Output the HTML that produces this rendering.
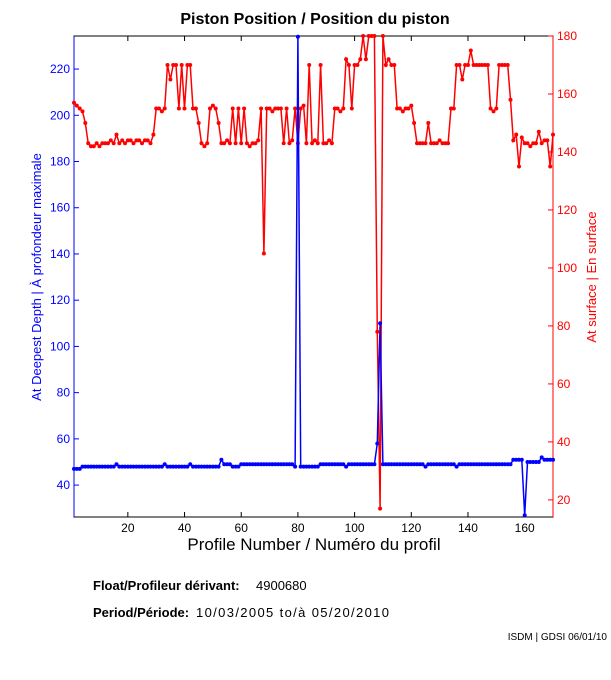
<!DOCTYPE html>
<html><head><meta charset="utf-8"><style>
body{margin:0;background:#fff;width:611px;height:675px;overflow:hidden;font-family:"Liberation Sans",sans-serif}
</style></head><body>
<svg id="s" width="611" height="675" xmlns="http://www.w3.org/2000/svg" font-family="Liberation Sans, sans-serif">
<rect width="611" height="675" fill="#fff"/>
<text x="315" y="24" font-size="16" font-weight="bold" text-anchor="middle">Piston Position / Position du piston</text>
<text x="314" y="550" font-size="17" text-anchor="middle">Profile Number / Numéro du profil</text>
<text transform="translate(41,277) rotate(-90)" font-size="13" fill="#0000ff" text-anchor="middle">At Deepest Depth | À profondeur maximale</text>
<text transform="translate(596,277) rotate(-90)" font-size="13" fill="#ff0000" text-anchor="middle">At surface | En surface</text>
<text x="93" y="590" font-size="13" font-weight="bold">Float/Profileur dérivant:</text>
<text x="256" y="590" font-size="13">4900680</text>
<text x="93" y="617" font-size="13" font-weight="bold">Period/Période:</text>
<text x="196" y="617" font-size="13" textLength="193" lengthAdjust="spacing">10/03/2005  to/à  05/20/2010</text>
<text x="607" y="640" font-size="10" text-anchor="end">ISDM | GDSI 06/01/10</text>
<g id="g"></g>
</svg>
<script>
const L=74,R=553,T=36,B=517;
const X=v=>L+(v-1)*(R-L)/169;
const YL=v=>T+(234.3-v)*(B-T)/(234.3-26.2);
const YR=v=>T+(180-v)*(B-T)/(180-14.1);
let h='';
h+=`<rect x="${L}" y="${T}" width="${R-L}" height="${B-T}" fill="none" stroke="#000"/>`;
h+=`<line x1="${L}" y1="${T}" x2="${L}" y2="${B}" stroke="#00f"/>`;
h+=`<line x1="${R}" y1="${T}" x2="${R}" y2="${B}" stroke="#f00"/>`;
for(let v=20;v<=160;v+=20){const x=X(v);h+=`<line x1="${x}" y1="${B}" x2="${x}" y2="${B-5}" stroke="#000"/><line x1="${x}" y1="${T}" x2="${x}" y2="${T+5}" stroke="#000"/><text x="${x}" y="${B+15}" font-size="12" text-anchor="middle">${v}</text>`;}
for(let v=40;v<=220;v+=20){const y=YL(v);h+=`<line x1="${L}" y1="${y}" x2="${L+5}" y2="${y}" stroke="#00f"/><text x="${L-4}" y="${y+4}" font-size="12" fill="#00f" text-anchor="end">${v}</text>`;}
for(let v=20;v<=180;v+=20){const y=YR(v);h+=`<line x1="${R}" y1="${y}" x2="${R-5}" y2="${y}" stroke="#f00"/><text x="${R+4}" y="${y+4}" font-size="12" fill="#f00">${v}</text>`;}
const red={1:157,2:156,3:155,4:154,5:150,6:143,7:142,8:142,9:143,10:142,11:143,12:143,13:143,14:144,15:143,16:146,17:143,18:144,19:143,20:144,21:144,22:143,23:144,24:144,25:143,26:144,27:144,28:143,29:146,30:155,31:155,32:154,33:155,34:170,35:165,36:170,37:170,38:155,39:170,40:155,41:170,42:170,43:155,44:155,45:150,46:143,47:142,48:143,49:155,50:156,51:155,52:150,53:143,54:143,55:144,56:143,57:155,58:143,59:155,60:143,61:155,62:143,63:142,64:143,65:143,66:144,67:155,68:105,69:155,70:155,71:154,72:155,73:155,74:155,75:143,76:155,77:143,78:144,79:155,80:143,81:155,82:156,83:143,84:170,85:143,86:144,87:143,88:170,89:143,90:143,91:144,92:143,93:155,94:155,95:154,96:155,97:172,98:170,99:155,100:170,101:170,102:172,103:180,104:172,105:180,106:180,107:180,108:78,109:17,110:180,111:170,112:172,113:170,114:170,115:155,116:155,117:154,118:155,119:155,120:156,121:150,122:143,123:143,124:143,125:143,126:150,127:143,128:143,129:143,130:144,131:143,132:143,133:143,134:155,135:155,136:170,137:170,138:165,139:170,140:170,141:175,142:170,143:170,144:170,145:170,146:170,147:170,148:155,149:154,150:155,151:170,152:170,153:170,154:170,155:158,156:144,157:146,158:135,159:145,160:143,161:143,162:142,163:143,164:143,165:147,166:143,167:144,168:144,169:135,170:146};
const blue={};
for(let i=1;i<=170;i++){let v=48;if(i<=3)v=47;if([16,33,42].includes(i))v=49;if(i==53)v=51;if(i>=54&&i<=56)v=49;if(i>=60&&i<=78)v=49;if(i==80)v=234;if(i>=88)v=49;if(i==97)v=48;if(i==125||i==136)v=48;if(i==108)v=58;if(i==109)v=110;if(i>=156&&i<=159)v=51;if(i==160)v=27;if(i>=161&&i<=165)v=50;if(i==166)v=52;if(i>=167)v=51;blue[i]=v;}
function series(d,Y,c){let p='',m='';for(let i=1;i<=170;i++){const x=X(i).toFixed(1),y=Y(d[i]).toFixed(1);p+=(i==1?'M':'L')+x+','+y;m+=`<circle cx="${x}" cy="${y}" r="2" fill="${c}"/>`;}return `<path d="${p}" fill="none" stroke="${c}" stroke-width="1.5"/>`+m;}
h+=series(red,YR,'#f00');
h+=series(blue,YL,'#00f');
document.getElementById('g').innerHTML=h;
</script>
</body></html>
